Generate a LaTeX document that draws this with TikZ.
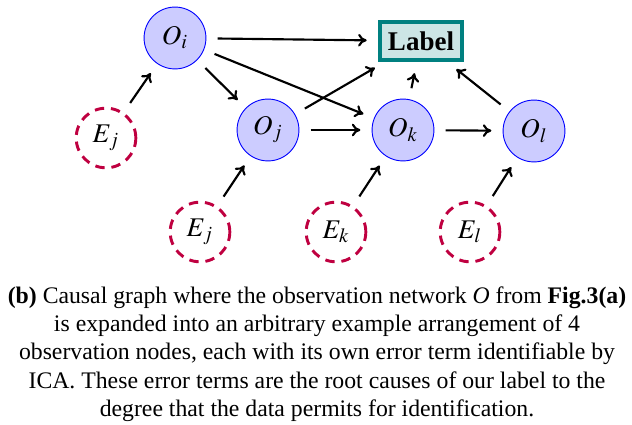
\documentclass[tikz,border=0pt]{standalone}
\usepackage{mathptmx}
\usepackage{fontspec}
\setmainfont{Liberation Serif}
\usepackage{tikz}
\usetikzlibrary{arrows.meta}

\begin{document}
\begin{tikzpicture}[x=0.4444pt,y=-0.4444pt]
\tikzstyle{obs}=[circle,draw=blue,fill=blue!20,minimum size=27.5pt,inner sep=0pt,font=\large]
\tikzstyle{err}=[circle,draw=purple,line width=1.3pt,dash pattern=on 4.2pt off 3pt,minimum size=26.5pt,inner sep=0pt,font=\large]
\tikzstyle{lab}=[rectangle,draw=teal,fill=teal!20,line width=1.8pt,minimum width=36.5pt,minimum height=17pt,inner sep=2pt,font=\large\bfseries]
\tikzstyle{arr}=[-{To[length=3.8pt,width=5.6pt]},line width=0.95pt,shorten <=5pt,shorten >=5pt]
\useasboundingbox (0,0) rectangle (632,425);
% observation nodes
\node[obs] (Oi) at (175,38) {$O_i$};
\node[obs] (Oj) at (268,130) {$O_j$};
\node[obs] (Ok) at (403,130) {$O_k$};
\node[obs] (Ol) at (534,131) {$O_l$};
\node[lab] (label) at (421,41) {Label};
% error terms
\node[err] (Ej) at (106,138) {$E_j$};
\node[err] (Ejb) at (200,232) {$E_j$};
\node[err] (Ek) at (336,232) {$E_k$};
\node[err] (El) at (470,232) {$E_l$};
\foreach \a/\b in {Ej/Oi,Ejb/Oj,Ek/Ok,El/Ol,Oi/Oj,Oi/Ok,Oi/label,Oj/Ok,Oj/label,Ok/Ol,Ok/label,Ol/label}
  \draw[arr] (\a) -- (\b);
% caption
\node[align=center,font=\fontsize{10.55pt}{12.6pt}\selectfont] (caption) at (317,354)
  {\textbf{(b)} Causal graph where the observation network \textit{O} from \textbf{Fig.3(a)}\\
   is expanded into an arbitrary example arrangement of 4\\
   observation nodes, each with its own error term identifiable by\\
   ICA. These error terms are the root causes of our label to the\\
   degree that the data permits for identification.};
\end{tikzpicture}
\end{document}
